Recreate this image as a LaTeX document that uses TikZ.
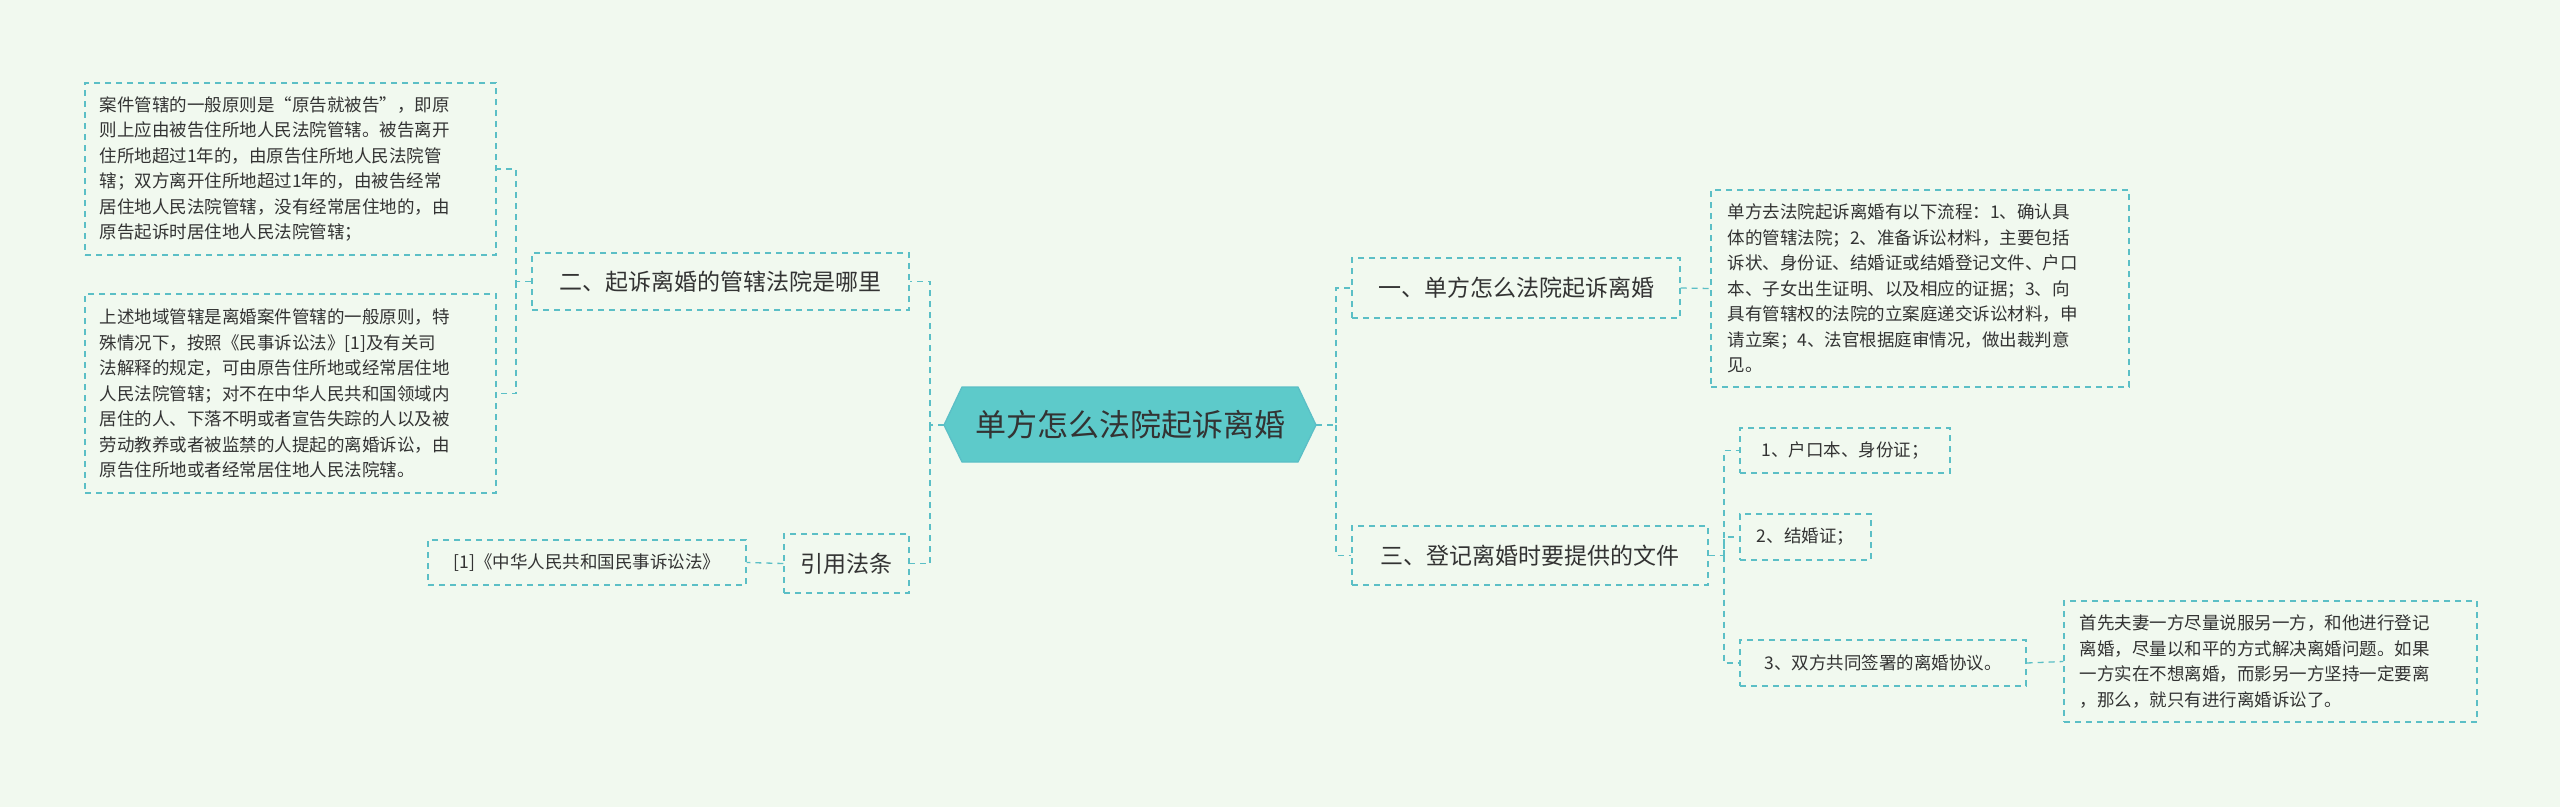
\documentclass[tikz,border=0pt]{standalone}
\usepackage{fontspec}
\setmainfont{Noto Sans CJK SC}
\usetikzlibrary{shapes.geometric}
\definecolor{bg}{HTML}{F1F9EF}
\definecolor{ln}{HTML}{5BBFC6}
\definecolor{tx}{HTML}{333333}
\definecolor{rootc}{HTML}{5DCACA}
\tikzset{
 box/.style={draw=ln,dashed,line width=1.3pt,dash pattern=on 6pt off 5pt,text=tx,inner sep=0pt},
 leaf/.style={box,font=\fontsize{17.5}{25.5}\selectfont,align=left},
 mid/.style={box,font=\fontsize{23}{28}\selectfont},
 conn/.style={draw=ln,line width=1.3pt,dash pattern=on 6pt off 5pt},
}
\begin{document}
\begin{tikzpicture}[x=1pt,y=-1pt]
\fill[bg] (0,0) rectangle (2560,807);
\useasboundingbox (0,0) rectangle (2560,807);
\node[regular polygon,regular polygon sides=6,fill=rootc,draw=ln,line width=1.3pt,minimum height=0pt,inner sep=0pt,shape border rotate=0,font=\fontsize{31}{36}\selectfont,text=tx, xscale=1] (root) at (1130,425) {\phantom{x}};
\fill[rootc,draw=ln,line width=1.3pt] (944,425) -- (962,387) -- (1298,387) -- (1316,425) -- (1298,462) -- (962,462) -- cycle;
\node[font=\fontsize{31}{36}\selectfont,text=tx] (rt) at (1130,425) {单方怎么法院起诉离婚};
\coordinate (rl) at (944,425); \coordinate (rr) at (1316,425);
% left
\node[mid,minimum width=377,minimum height=57] (b2) at (720.5,281.5) {二、起诉离婚的管辖法院是哪里};
\node[leaf,minimum width=411,minimum height=172,text width=382] (l1) at (290.5,169) {案件管辖的一般原则是“原告就被告”，即原\\则上应由被告住所地人民法院管辖。被告离开\\住所地超过1年的，由原告住所地人民法院管\\辖；双方离开住所地超过1年的，由被告经常\\居住地人民法院管辖，没有经常居住地的，由\\原告起诉时居住地人民法院管辖；};
\node[leaf,minimum width=411,minimum height=199,text width=382] (l2) at (290.5,393.5) {上述地域管辖是离婚案件管辖的一般原则，特\\殊情况下，按照《民事诉讼法》[1]及有关司\\法解释的规定，可由原告住所地或经常居住地\\人民法院管辖；对不在中华人民共和国领域内\\居住的人、下落不明或者宣告失踪的人以及被\\劳动教养或者被监禁的人提起的离婚诉讼，由\\原告住所地或者经常居住地人民法院辖。};
\node[mid,minimum width=125,minimum height=59] (yf) at (846.5,563.5) {引用法条};
\node[leaf,minimum width=318,minimum height=45] (law) at (587,562.5) {[1]《中华人民共和国民事诉讼法》};
% right
\node[mid,minimum width=328,minimum height=60] (b1) at (1516,288) {一、单方怎么法院起诉离婚};
\node[leaf,minimum width=418,minimum height=197,text width=385] (r1) at (1920,288.5) {单方去法院起诉离婚有以下流程：1、确认具\\体的管辖法院；2、准备诉讼材料，主要包括\\诉状、身份证、结婚证或结婚登记文件、户口\\本、子女出生证明、以及相应的证据；3、向\\具有管辖权的法院的立案庭递交诉讼材料，申\\请立案；4、法官根据庭审情况，做出裁判意\\见。};
\node[mid,minimum width=356,minimum height=59] (b3) at (1530,555.5) {三、登记离婚时要提供的文件};
\node[leaf,minimum width=210,minimum height=45] (c1) at (1845,450.5) {1、户口本、身份证；};
\node[leaf,minimum width=131,minimum height=46] (c2) at (1805.5,537) {2、结婚证；};
\node[leaf,minimum width=286,minimum height=46] (c3) at (1883,663) {3、双方共同签署的离婚协议。};
\node[leaf,minimum width=413,minimum height=121,text width=382] (c4) at (2270.5,661.5) {首先夫妻一方尽量说服另一方，和他进行登记\\离婚，尽量以和平的方式解决离婚问题。如果\\一方实在不想离婚，而影另一方坚持一定要离\\，那么，就只有进行离婚诉讼了。};
% connectors
\draw[conn] (rl) -- (930,425) |- (b2.east);
\draw[conn] (930,425) |- (yf.east);
\draw[conn] (b2.west) -- (516,281.5) |- (l1.east);
\draw[conn] (516,281.5) |- (l2.east);
\draw[conn] (yf.west) -- (law.east);
\draw[conn] (rr) -- (1336,425) |- (b1.west);
\draw[conn] (1336,425) |- (b3.west);
\draw[conn] (b1.east) -- (r1.west);
\draw[conn] (b3.east) -- (1724,555.5) |- (c1.west);
\draw[conn] (1724,555.5) |- (c2.west);
\draw[conn] (1724,555.5) |- (c3.west);
\draw[conn] (c3.east) -- (c4.west);
\end{tikzpicture}
\end{document}
